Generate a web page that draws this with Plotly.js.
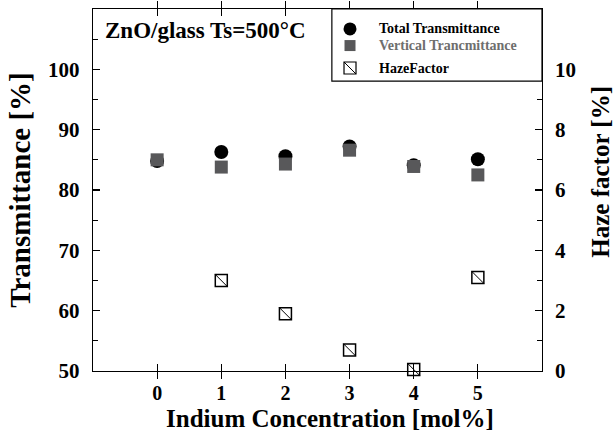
<!DOCTYPE html>
<html>
<head>
<meta charset="utf-8">
<script src="https://cdn.plot.ly/plotly-3.0.1.min.js"></script>
<style>
  html, body { margin: 0; padding: 0; background: #ffffff; }
  #chart { width: 615px; height: 436px; }
</style>
</head>
<body>
<div id="chart"></div>
<script>
// Indium concentration in the ZnO film [mol%]
const concentration = [0, 1, 2, 3, 4, 5];
// Transmittance [%]
const totalTransmittance = [84.8, 86.3, 85.6, 87.2, 84.1, 85.1];
const verticalTransmittance = [85.0, 83.8, 84.3, 86.6, 83.9, 82.5];
// Haze factor [%] (no value for the undoped film)
const hazeConcentration = [1, 2, 3, 4, 5];
const hazeFactor = [3.0, 1.9, 0.7, 0.05, 3.1];

// Tick labels
const xTicks = [0, 1, 2, 3, 4, 5];
const leftTicks = [50, 60, 70, 80, 90, 100];
const rightTicks = [0, 2, 4, 6, 8, 10];

const SERIF = '"Liberation Serif", "Times New Roman", serif';
const legendNames = ['Total Transmittance', 'Vertical Trancmittance', 'HazeFactor'];

const traces = [
  {
    x: concentration, y: totalTransmittance, name: legendNames[0],
    type: 'scatter', mode: 'markers', cliponaxis: false,
    marker: { symbol: 'circle', size: 14, color: '#000000' }
  },
  {
    x: concentration, y: verticalTransmittance, name: legendNames[1],
    type: 'scatter', mode: 'markers', cliponaxis: false,
    marker: { symbol: 'square', size: 13, color: '#58585a' }
  },
  {
    x: hazeConcentration, y: hazeFactor, name: legendNames[2], yaxis: 'y2',
    type: 'scatter', mode: 'markers', cliponaxis: false,
    marker: { symbol: 'square', size: 12, color: '#ffffff', line: { color: '#000000', width: 1.5 } }
  },
  {
    // diagonal stroke inside each haze-factor square
    x: hazeConcentration, y: hazeFactor, name: legendNames[2], yaxis: 'y2', showlegend: false,
    type: 'scatter', mode: 'markers', cliponaxis: false, hoverinfo: 'skip',
    marker: { symbol: 'line-nw', size: 12, color: '#000000', line: { color: '#000000', width: 1 } }
  }
];

// hand-built legend box in the upper right corner of the frame
const L = { x0: 0.532, x1: 1.0, y0: 0.801, y1: 1.0, sx: 0.5724, tx: 0.632 };
const rowY = [0.945, 0.899, 0.837];
const px = 1 / 449, py = 1 / 362;

const shapes = [
  { type: 'rect', xref: 'paper', yref: 'paper', x0: L.x0, x1: L.x1, y0: L.y0, y1: L.y1,
    line: { color: '#000000', width: 1.2 }, fillcolor: '#ffffff' },
  { type: 'circle', xref: 'paper', yref: 'paper',
    x0: L.sx - 6.5 * px, x1: L.sx + 6.5 * px, y0: rowY[0] - 6.5 * py, y1: rowY[0] + 6.5 * py,
    line: { width: 0 }, fillcolor: '#000000' },
  { type: 'rect', xref: 'paper', yref: 'paper',
    x0: L.sx - 5.5 * px, x1: L.sx + 5.5 * px, y0: rowY[1] - 5.5 * py, y1: rowY[1] + 5.5 * py,
    line: { width: 0 }, fillcolor: '#58585a' },
  { type: 'rect', xref: 'paper', yref: 'paper',
    x0: L.sx - 6 * px, x1: L.sx + 6 * px, y0: rowY[2] - 6 * py, y1: rowY[2] + 6 * py,
    line: { color: '#000000', width: 1.2 }, fillcolor: '#ffffff' },
  { type: 'line', xref: 'paper', yref: 'paper',
    x0: L.sx - 6 * px, x1: L.sx + 6 * px, y0: rowY[2] + 6 * py, y1: rowY[2] - 6 * py,
    line: { color: '#000000', width: 1 } }
];

const legendColors = ['#000000', '#6e6e6e', '#000000'];
const annotations = legendNames.map((name, i) => ({
  xref: 'paper', yref: 'paper', x: L.tx, y: rowY[i], xanchor: 'left', yanchor: 'middle',
  text: '<b>' + name + '</b>', showarrow: false,
  font: { family: SERIF, size: 14, color: legendColors[i] }
}));
annotations.push(
  {
    xref: 'paper', yref: 'paper', x: 0.022, y: 0.94, xanchor: 'left', yanchor: 'middle',
    text: '<b>ZnO/glass Ts=500°C</b>', showarrow: false,
    font: { family: SERIF, size: 23, color: '#000000' }
  },
  {
    // x-axis title
    xref: 'paper', yref: 'paper', x: 0.528, y: -0.0925, xanchor: 'center', yanchor: 'top',
    text: '<b>Indium Concentration [mol%]</b>', showarrow: false, borderpad: 0,
    font: { family: SERIF, size: 25, color: '#000000' }
  },
  {
    // right axis title
    xref: 'paper', yref: 'paper', x: 1.131, y: 0.55, xanchor: 'center', yanchor: 'middle',
    textangle: -90, text: '<b>Haze factor [%]</b>', showarrow: false,
    font: { family: SERIF, size: 25, color: '#000000' }
  }
);

const axisCommon = {
  showgrid: false, zeroline: false, linecolor: '#000000', linewidth: 1.2,
  ticks: 'inside', tickcolor: '#000000', tickwidth: 1.2, ticklen: 7,
  tickfont: { family: SERIF, size: 21, color: '#000000', weight: 'bold' }
};

const layout = {
  width: 615, height: 436,
  margin: { l: 93, r: 73, t: 9, b: 65, pad: 0 },
  paper_bgcolor: '#ffffff', plot_bgcolor: '#ffffff',
  showlegend: false,
  font: { family: SERIF, color: '#000000' },
  xaxis: Object.assign({}, axisCommon, {
    range: [-1, 6], tickmode: 'array', tickvals: xTicks, ticktext: xTicks.map(String),
    showline: true, mirror: 'allticks', ticklabelstandoff: 4,
    tickfont: { family: SERIF, size: 20, color: '#000000', weight: 'bold' }
  }),
  yaxis: Object.assign({}, axisCommon, {
    range: [50, 110], tickmode: 'array', tickvals: leftTicks, ticktext: leftTicks.map(String),
    showline: true, mirror: 'allticks', ticklabelstandoff: 8,
    minor: { dtick: 5, tick0: 50, ticks: 'inside', ticklen: 5, tickcolor: '#000000', tickwidth: 1.2 },
    title: { text: '<b>Transmittance [%]</b>', standoff: 9,
             font: { family: SERIF, size: 29, color: '#000000' } }
  }),
  yaxis2: Object.assign({}, axisCommon, {
    overlaying: 'y', side: 'right', range: [0, 12],
    tickmode: 'array', tickvals: rightTicks, ticktext: rightTicks.map(String),
    showline: false, ticks: '', ticklabelstandoff: 12
  }),
  shapes: shapes,
  annotations: annotations
};

Plotly.newPlot('chart', traces, layout, { displayModeBar: false, staticPlot: true });
</script>
</body>
</html>
